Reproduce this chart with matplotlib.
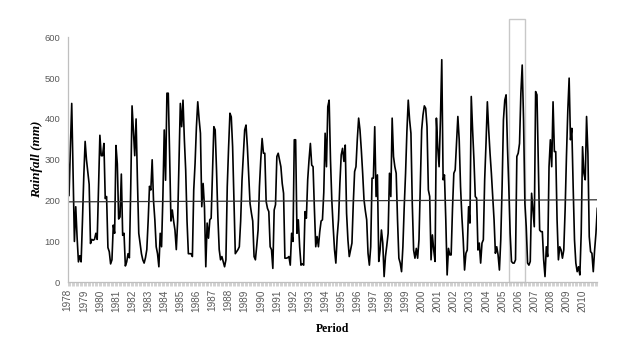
import numpy as np
import matplotlib
matplotlib.use("Agg")
import matplotlib.pyplot as plt
from matplotlib.patches import Rectangle

# monthly rainfall (mm), Jan 1978 .. Dec 2010
years = list(range(1978, 2011))
rain_1978_1985 = [
    340, 212, 330, 438, 270, 100, 185, 110, 50, 65, 50, 150,
    260, 345, 300, 270, 240, 95, 105, 103, 105, 120, 105, 230,
    360, 310, 310, 340, 205, 210, 85, 75, 45, 55, 140, 120,
    335, 290, 155, 160, 265, 115, 120, 40, 50, 70, 60, 230,
    432, 370, 310, 400, 250, 120, 95, 70, 55, 47, 60, 80,
    150, 235, 226, 300, 200, 153, 87, 70, 38, 120, 87, 210,
    373, 250, 463, 463, 315, 150, 177, 150, 128, 80, 150, 300,
    438, 381, 446, 350, 275, 150, 70, 70, 70, 63, 226, 291,
]
rain_1986_1993 = [
    380, 442, 400, 365, 185, 242, 185, 38, 145, 108, 153, 157,
    270, 381, 373, 275, 160, 80, 55, 63, 50, 38, 55, 234,
    330, 414, 405, 332, 200, 70, 75, 80, 87, 150, 250, 310,
    373, 385, 332, 260, 193, 170, 150, 63, 55, 90, 128, 234,
    300, 352, 316, 316, 198, 181, 173, 87, 80, 34, 177, 190,
    308, 316, 300, 283, 242, 218, 59, 59, 60, 63, 42, 120,
    100, 349, 349, 120, 153, 87, 42, 45, 42, 173, 157, 251,
    300, 340, 287, 283, 180, 87, 112, 87, 124, 150, 153, 220,
]
rain_1994_2001 = [
    365, 283, 430, 446, 300, 200, 136, 80, 47, 112, 153, 242,
    312, 328, 296, 336, 169, 104, 63, 79, 96, 193, 271, 283,
    350, 402, 373, 324, 267, 202, 175, 153, 71, 42, 87, 255,
    255, 381, 210, 263, 51, 79, 128, 96, 14, 63, 90, 120,
    267, 210, 402, 308, 283, 267, 153, 59, 47, 26, 87, 185,
    267, 370, 446, 398, 365, 193, 79, 59, 83, 59, 104, 234,
    373, 410, 432, 426, 381, 226, 210, 55, 116, 79, 51, 402,
    330, 283, 398, 545, 251, 263, 153, 18, 83, 67, 67, 180,
]
rain_2002_2010 = [
    267, 275, 340, 406, 349, 234, 161, 104, 30, 71, 79, 185,
    145, 455, 373, 300, 210, 206, 79, 96, 47, 96, 104, 251,
    340, 442, 373, 316, 267, 210, 153, 71, 87, 67, 30, 104,
    234, 398, 446, 459, 332, 234, 120, 51, 47, 47, 55, 308,
    316, 340, 463, 532, 398, 193, 136, 47, 42, 51, 218, 177,
    136, 467, 459, 300, 128, 124, 124, 55, 14, 87, 63, 283,
    349, 283, 442, 320, 320, 153, 55, 87, 79, 59, 79, 177,
    308, 420, 500, 349, 377, 234, 104, 47, 26, 38, 18, 120,
    332, 267, 251, 406, 316, 112, 75, 71, 26, 79, 120, 181,
]
rainfall = rain_1978_1985 + rain_1986_1993 + rain_1994_2001 + rain_2002_2010
trend = [197, 202]          # trend line value at first and last month
highlight = [329.3, 340.8]  # highlighted season (month index)

months = np.arange(len(rainfall))

fig = plt.figure(figsize=(6.24, 3.58), dpi=100)
ax = fig.add_axes([0.1085, 0.2115, 0.8487, 0.6844])

ax.plot(months, rainfall, color="black", lw=1.2)
ax.plot([months[0], months[-1]], trend, color="#333333", lw=0.9)

ax.add_patch(Rectangle((highlight[0], 0), highlight[1] - highlight[0], 645,
                       fill=False, edgecolor="#c8c8c8", lw=1.0, clip_on=False))

ax.set_xlim(0, len(rainfall) - 1)
ax.set_ylim(0, 600)
ax.set_yticks(range(0, 601, 100))
ax.set_xticks(np.arange(0, len(rainfall), 12))
ax.set_xticklabels([str(y) for y in years], rotation=90)
ax.set_xticks(months, minor=True)

grey = "#595959"
for side in ("top", "right"):
    ax.spines[side].set_visible(False)
for side in ("left", "bottom"):
    ax.spines[side].set_color("#bfbfbf")
    ax.spines[side].set_linewidth(0.9)

ax.tick_params(axis="y", length=0, pad=5.5, labelsize=6.8, labelcolor=grey)
ax.tick_params(axis="x", which="both", length=3, width=0.5, color="#bfbfbf",
               labelsize=7.2, labelcolor=grey, pad=2)
for lab in ax.get_xticklabels() + ax.get_yticklabels():
    lab.set_fontfamily("Liberation Sans")

ax.set_ylabel("Rainfall (mm)", fontfamily="Liberation Serif", fontweight="bold",
              fontstyle="italic", fontsize=9.5)
ax.yaxis.set_label_coords(-0.047, 0.5)
ax.set_xlabel("Period", fontfamily="Liberation Serif", fontweight="bold",
              fontsize=8.5)
ax.xaxis.set_label_coords(0.5, -0.166)

fig.savefig("out.png", dpi=100)
